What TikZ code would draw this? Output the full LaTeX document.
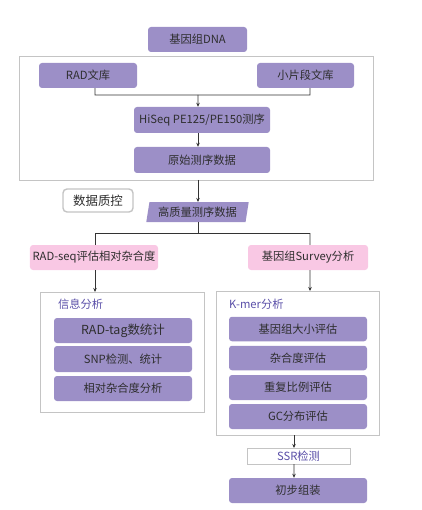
\documentclass[tikz,border=0pt]{standalone}
\usepackage{fontspec}
\newfontfamily\cjk{Noto Sans CJK SC}
\usetikzlibrary{arrows.meta,shapes.geometric}
\definecolor{purp}{HTML}{9C8FC7}
\definecolor{pinkc}{HTML}{F9C8E4}
\definecolor{txtc}{HTML}{2E2E2E}
\definecolor{labc}{HTML}{5A4FA8}
\definecolor{framec}{HTML}{C4C4C4}
\definecolor{linec}{HTML}{333333}
\tikzset{
  basefont/.style={font=\cjk\fontsize{11.3}{13}\selectfont},
  pbox/.style={basefont, fill=purp, rounded corners=3bp, text=txtc, inner sep=0pt, minimum width=#1, minimum height=25bp},
  pkbox/.style={basefont, fill=pinkc, rounded corners=3bp, text=txtc, inner sep=0pt, minimum width=#1, minimum height=25bp},
  frame/.style={draw=framec, line width=1bp},
  wbox/.style={basefont, draw=framec, line width=1bp, fill=white, inner sep=0pt},
  lab/.style={basefont, text=labc, anchor=west, inner sep=0pt},
  conn/.style={draw=linec, line width=0.8bp},
  arr/.style={conn, -{Stealth[length=4bp,width=3.5bp]}}
}
\begin{document}
\begin{tikzpicture}[x=1bp,y=-1bp]
\useasboundingbox (0,0) rectangle (421,510);
% top
\node[pbox=99bp] (dna) at (197.5,39.5) {基因组DNA};
\node[frame, minimum width=353bp, minimum height=123bp, inner sep=0pt] (outer1) at (196.5,118.5) {};
\node[pbox=98bp] (rad) at (88,75.5) {RAD文库};
\node[pbox=97bp] (small) at (305.5,75.5) {小片段文库};
\node[pbox=136bp, minimum height=26bp] (hiseq) at (202,120) {HiSeq PE125/PE150测序};
\node[pbox=136bp, minimum height=26bp] (raw) at (202,160) {原始测序数据};
\coordinate (radj) at (95,95);
\coordinate (smj) at (310,95);
\coordinate (midj) at (198,95);
\draw[conn] ([xshift=7bp]rad.south) -- (radj) -- (smj) -- ([xshift=4.5bp]small.south);
\draw[arr] (midj) -- ([xshift=-4bp]hiseq.north);
\draw[arr] ([xshift=-4bp]hiseq.south) -- ([xshift=-4bp]raw.north);
% QC
\node[wbox, line width=1.4bp, rounded corners=4bp, minimum width=70bp, minimum height=23bp, text=txtc, font=\cjk\fontsize{12.5}{14}\selectfont] (qc) at (98,200.5) {数据质控};
\node[basefont, trapezium, trapezium left angle=76, trapezium right angle=104, trapezium stretches=true, fill=purp, text=txtc, inner sep=0pt, minimum width=103bp, minimum height=20bp] (hq) at (197.5,212) {高质量测序数据};
\draw[arr] (198,180) -- (198,202);
% split
\coordinate (sj) at (198,233);
\coordinate (lj) at (95,233);
\coordinate (rj) at (310,233);
\node[pkbox=128bp] (pl) at (94,257.5) {RAD-seq评估相对杂合度};
\node[pkbox=120bp] (pr) at (308,257.5) {基因组Survey分析};
\draw[conn] (198,222) -- (sj);
\draw[conn] (lj) -- (rj);
\draw[conn] (lj) -- ([xshift=1bp]pl.north);
\draw[conn] (rj) -- ([xshift=2bp]pr.north);
% left box
\node[frame, minimum width=163bp, minimum height=120bp, inner sep=0pt] (boxl) at (122.5,352) {};
\draw[arr] ([xshift=1bp]pl.south) -- (95,292);
\node[lab] (labl) at (58,304.5) {信息分析};
\node[pbox=138bp, font=\cjk\fontsize{12.5}{14}\selectfont] (l1) at (123,330.5) {RAD-tag数统计};
\node[pbox=138bp, minimum height=26bp] (l2) at (123,359) {SNP检测、统计};
\node[pbox=138bp] (l3) at (123,388.5) {相对杂合度分析};
% right box
\node[frame, minimum width=163bp, minimum height=144bp, inner sep=0pt] (boxr) at (297.5,363) {};
\draw[arr] ([xshift=2bp]pr.south) -- (310,291);
\node[lab] (labr) at (229,304.5) {K-mer分析};
\node[pbox=138bp, minimum height=24.5bp] (r1) at (298,329) {基因组大小评估};
\node[pbox=138bp, minimum height=24.5bp] (r2) at (298,358) {杂合度评估};
\node[pbox=138bp] (r3) at (298,387.5) {重复比例评估};
\node[pbox=138bp] (r4) at (298,416.5) {GC分布评估};
\node[wbox, text=labc, minimum width=103bp, minimum height=16bp] (ssr) at (298.5,456) {SSR检测};
\node[pbox=138bp] (asm) at (298,490.5) {初步组装};
\draw[arr] (294,435) -- (294,448);
\draw[arr] (294,464) -- ([xshift=-4bp]asm.north);
\end{tikzpicture}
\end{document}
